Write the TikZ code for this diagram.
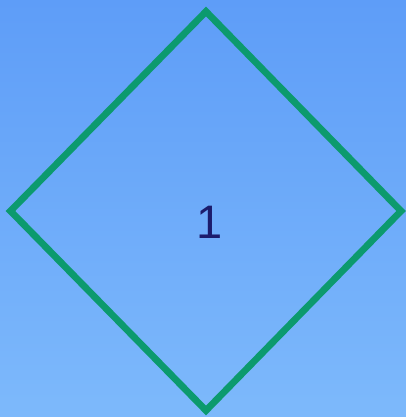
\documentclass[tikz,border=0pt]{standalone}
\usepackage{fontspec}
\setmainfont{Liberation Sans}
\definecolor{bgtop}{HTML}{5E9DF8}
\definecolor{bgbot}{HTML}{7DB9FB}
\definecolor{edge}{HTML}{0C9A6E}
\definecolor{txt}{HTML}{1C1C6C}
\begin{document}
\begin{tikzpicture}[x=1pt,y=-1pt,
  diamondline/.style={draw=edge,line width=6.8pt,line join=miter},
  label/.style={text=txt,font=\fontsize{47}{47}\selectfont,inner sep=0pt}]
\shade[top color=bgtop,bottom color=bgbot] (0,0) rectangle (406,417);
\useasboundingbox (0,0) rectangle (406,417);
\coordinate (t) at (206,11.5);
\coordinate (l) at (10.5,211);
\coordinate (b) at (206,410.5);
\coordinate (r) at (401,211);
\draw[diamondline] (t) -- (r) -- (b) -- (l) -- cycle;
\node[label] (n1) at (209.5,222.5) {1};
\end{tikzpicture}
\end{document}
